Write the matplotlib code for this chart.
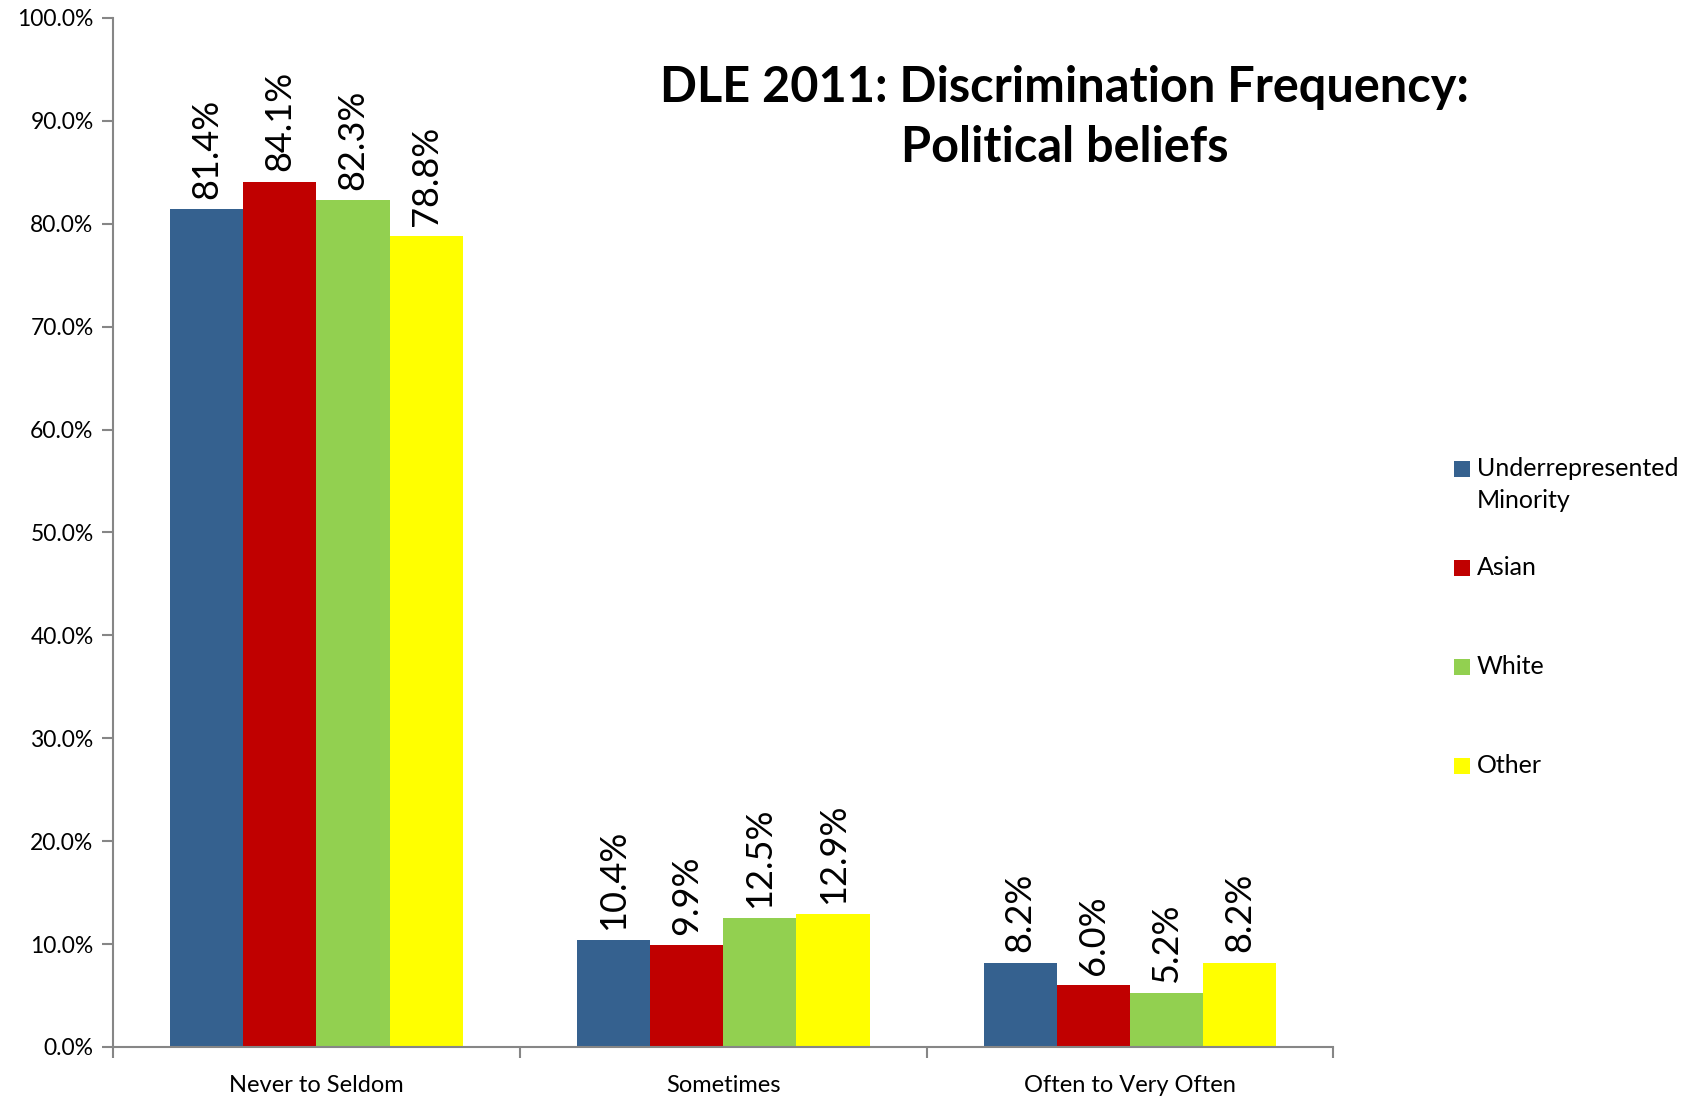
import matplotlib
matplotlib.use("Agg")
import matplotlib.pyplot as plt
import numpy as np
from matplotlib.patches import Rectangle

categories = ["Never to Seldom", "Sometimes", "Often to Very Often"]
series_names = ["Underrepresented\nMinority", "Asian", "White", "Other"]
urm = [81.4, 10.4, 8.2]
asian = [84.1, 9.9, 6.0]
white = [82.3, 12.5, 5.2]
other = [78.8, 12.9, 8.2]
colors = ["#35618F", "#C00000", "#92D050", "#FFFF00"]
yticks = [0, 10, 20, 30, 40, 50, 60, 70, 80, 90, 100]

plt.rcParams['font.family'] = ['Lato', 'DejaVu Sans']

W, H = 1690, 1097
fig = plt.figure(figsize=(W / 100, H / 100), dpi=100)
ax = fig.add_axes([0.0669, 0.0456, 0.789 - 0.0669, 0.9836 - 0.0456])

x = np.arange(len(categories))
w = 0.18
data = [urm, asian, white, other]
for i, (vals, c) in enumerate(zip(data, colors)):
    pos = x + (i - 1.5) * w
    ax.bar(pos, vals, width=w, color=c, edgecolor='none', zorder=2)
    for p, v in zip(pos, vals):
        ax.text(p, v + 1.0, f"{v:.1f}%", rotation=90, ha='center', va='bottom',
                fontsize=26, color='black')

ax.set_xlim(-0.5, 2.5)
ax.set_ylim(0, 100)
ax.set_yticks(yticks)
ax.set_yticklabels([f"{t:.1f}%" for t in yticks], fontsize=16.5)
ax.set_xticks(x)
ax.set_xticklabels(categories, fontsize=17)
ax.tick_params(axis='x', length=0, pad=20)
ax.set_xticks([-0.5, 0.5, 1.5, 2.5], minor=True)
ax.tick_params(axis='x', which='minor', length=8, color='#868686', width=1.5)
ax.tick_params(axis='y', length=8, color='#868686', width=1.5, pad=6)
for s in ['top', 'right']:
    ax.spines[s].set_visible(False)
for s in ['left', 'bottom']:
    ax.spines[s].set_color('#868686')
    ax.spines[s].set_linewidth(1.5)

fig.text(0.630, 0.893, "DLE 2011: Discrimination Frequency:\nPolitical beliefs",
         ha='center', va='center', fontsize=35, fontweight='bold', linespacing=1.42)

# legend, entries evenly spaced as in the reference
leg_y = [469, 568, 667, 766]
sq = 16
for name, c, yy in zip(series_names, colors, leg_y):
    fig.patches.append(Rectangle((1454 / W, 1 - (yy + sq / 2) / H), sq / W, sq / H,
                                 transform=fig.transFigure, facecolor=c,
                                 edgecolor='none'))
    fig.text(1477 / W, 1 - (yy - 12) / H, name, ha='left', va='top',
             fontsize=18, linespacing=1.45)

fig.savefig("out.png", dpi=100)
